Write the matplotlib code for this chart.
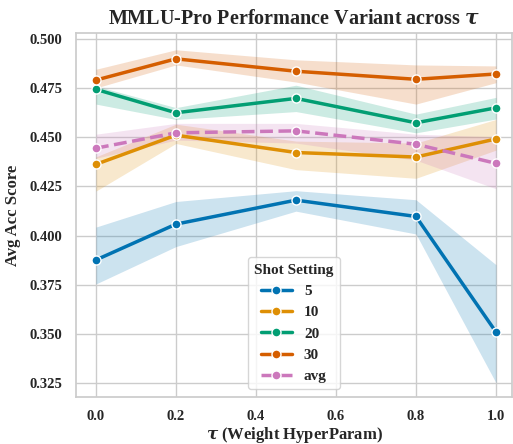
import matplotlib
matplotlib.use("Agg")
import matplotlib.pyplot as plt
import seaborn as sns
import numpy as np

taus = [0.0, 0.2, 0.5, 0.8, 1.0]
series_names = ["5", "10", "20", "30", "avg"]

mean_5 = [0.3876, 0.4058, 0.4180, 0.4097, 0.3510]
low_5 = [0.3754, 0.3944, 0.4124, 0.4008, 0.3252]
high_5 = [0.4043, 0.4173, 0.4228, 0.4182, 0.3852]

mean_10 = [0.4362, 0.4510, 0.4422, 0.4399, 0.4491]
low_10 = [0.4226, 0.4468, 0.4335, 0.4291, 0.4434]
high_10 = [0.4400, 0.4566, 0.4480, 0.4470, 0.4590]

mean_20 = [0.4743, 0.4624, 0.4697, 0.4573, 0.4649]
low_20 = [0.4668, 0.4590, 0.4630, 0.4522, 0.4592]
high_20 = [0.4760, 0.4650, 0.4764, 0.4617, 0.4702]

mean_30 = [0.4790, 0.4898, 0.4835, 0.4794, 0.4821]
low_30 = [0.4750, 0.4867, 0.4780, 0.4668, 0.4777]
high_30 = [0.4845, 0.4944, 0.4893, 0.4867, 0.4862]

mean_avg = [0.4444, 0.4522, 0.4532, 0.4464, 0.4367]
low_avg = [0.4393, 0.4485, 0.4470, 0.4383, 0.4238]
high_avg = [0.4515, 0.4570, 0.4570, 0.4515, 0.4502]

means = [mean_5, mean_10, mean_20, mean_30, mean_avg]
lows = [low_5, low_10, low_20, low_30, low_avg]
highs = [high_5, high_10, high_20, high_30, high_avg]

sns.set_theme(style="whitegrid")
plt.rcParams['font.family'] = ['Liberation Serif', 'DejaVu Serif']
plt.rcParams['mathtext.fontset'] = 'dejavuserif'

colors = sns.color_palette("colorblind")[:5]

fig = plt.figure(figsize=(5.13, 4.44), dpi=100)
ax = fig.add_axes([0.148, 0.106, 0.850, 0.820])

for i, name in enumerate(series_names):
    c = colors[i]
    ls = "--" if name == "avg" else "-"
    ax.fill_between(taus, lows[i], highs[i], color=c, alpha=0.2, linewidth=0)
    ax.plot(taus, means[i], color=c, linestyle=ls, linewidth=2.5, marker="o",
            markersize=6.5, markeredgecolor="white", markeredgewidth=1.0, label=name)

ax.set_xlim(-0.05, 1.04)
ax.set_ylim(0.318, 0.503)
ax.set_xticks([0.0, 0.2, 0.4, 0.6, 0.8, 1.0])
ax.set_yticks([0.325, 0.350, 0.375, 0.400, 0.425, 0.450, 0.475, 0.500])
ax.set_yticklabels([f"{v:.3f}" for v in ax.get_yticks()])
ax.set_xticklabels([f"{v:.1f}" for v in ax.get_xticks()])
for lab in ax.get_xticklabels() + ax.get_yticklabels():
    lab.set_fontweight("bold")
    lab.set_fontsize(10.5)
    lab.set_color("#262626")

ax.set_title(r"MMLU-Pro Performance Variant across $\boldsymbol{\tau}$",
             fontsize=14.5, fontweight="bold", color="#262626", pad=6)
ax.set_xlabel(r"$\boldsymbol{\tau}$ (Weight HyperParam)", fontsize=12, fontweight="bold",
              color="#262626", labelpad=1)
ax.set_ylabel("Avg Acc Score", fontsize=12, fontweight="bold", color="#262626", labelpad=6)

leg = ax.legend(title="Shot Setting", loc="lower center", fontsize=11,
                title_fontproperties={"weight": "bold", "size": 11}, frameon=True)
for t in leg.get_texts():
    t.set_fontweight("bold")

fig.savefig("out.png", dpi=100)
